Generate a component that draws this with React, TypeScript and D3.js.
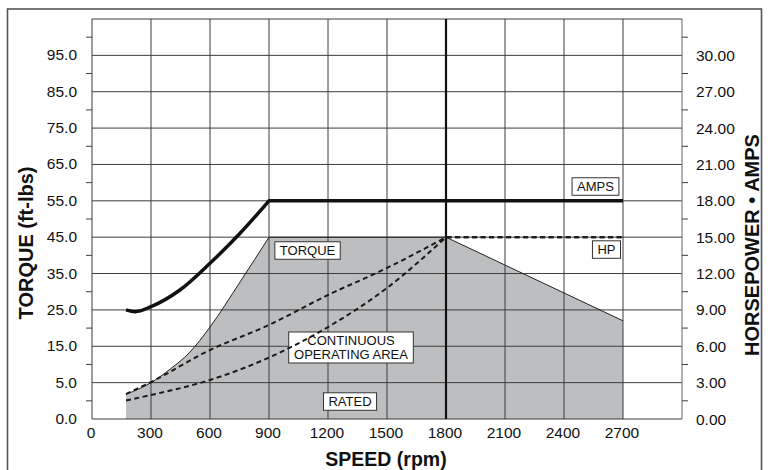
import React from "react";
import * as d3 from "d3";

// speed axis (rpm)
const speedTicks = [0, 300, 600, 900, 1200, 1500, 1800, 2100, 2400, 2700];

// left axis labels (ft-lbs) – printed scale, first interval is 0 -> 5
const torqueTicks = [0, 5, 15, 25, 35, 45, 55, 65, 75, 85, 95];

// right axis (hp / amps)
const powerTicks = [0, 3, 6, 9, 12, 15, 18, 21, 24, 27, 30];
const powerMinor = [1.5, 4.5, 7.5, 10.5, 13.5, 16.5, 19.5, 22.5, 25.5, 28.5, 31.5];

// continuous operating torque (ft-lbs)
const torqueRpm = [173, 300, 397, 498, 600, 753, 900, 1800, 2700];
const torqueVal = [3.4, 5.0, 8.7, 13.4, 20.3, 32.7, 45, 45, 22];

// amps
const ampsRpm = [173, 219, 300, 447, 600, 753, 900, 2700];
const ampsVal = [9.0, 8.85, 9.27, 10.64, 12.85, 15.32, 18, 18];

// horsepower curves (dashed)
const hpRpm = [173, 300, 600, 900, 1200, 1500, 1800, 2700];
const hpUpper = [2.06, 3.05, 5.69, 7.76, 10.23, 12.46, 15, 15];
const hpLower = [1.53, 1.98, 3.22, 5.07, 7.59, 10.81, 15, 15];

// boxed annotations: text, rpm, value on right axis
const notes = [
  { lines: ["AMPS"], rpm: 2560, at: 19.18 },
  { lines: ["TORQUE"], rpm: 1096, at: 13.9 },
  { lines: ["HP"], rpm: 2616, at: 13.98 },
  { lines: ["CONTINUOUS", "OPERATING AREA"], rpm: 1317, at: 5.9 },
  { lines: ["RATED"], rpm: 1312, at: 1.44 },
];

const FONT = "'Liberation Sans', Arial, Helvetica, sans-serif";

function textWidth(s: string, size: number) {
  const c = document.createElement("canvas").getContext("2d")!;
  c.font = `${size}px 'Liberation Sans', Arial, sans-serif`;
  return c.measureText(s).width;
}

export default function App() {
  const width = 771;
  const height = 470;

  const x = d3.scaleLinear().domain([0, 3000]).range([92, 682]);
  const yR = d3.scaleLinear().domain([0, 33]).range([419, 19]);
  const yL = d3.scaleLinear().domain([0, 5, 105]).range([yR(0), yR(3), yR(33)]);

  // curved part up to the corner, straight afterwards
  const split = (xs: number[], ys: number[], corner: number, sy: (v: number) => number) => {
    const pts: [number, number][] = xs.map((r, i) => [x(r), sy(ys[i])]);
    const k = xs.indexOf(corner);
    const curved = d3.line().curve(d3.curveMonotoneX)(pts.slice(0, k + 1)) || "";
    const straight = (d3.line()(pts.slice(k)) || "").replace(/^M/, "L");
    return { d: curved + straight, pts };
  };

  const torque = split(torqueRpm, torqueVal, 900, yL);
  const first = torque.pts[0];
  const last = torque.pts[torque.pts.length - 1];
  const torqueArea = `${torque.d}L${last[0]},${yL(0)}L${first[0]},${yL(0)}Z`;

  const amps = split(ampsRpm, ampsVal, 900, yR);
  const hpA = split(hpRpm, hpUpper, 1800, yR);
  const hpB = split(hpRpm, hpLower, 1800, yR);

  const grid = "#3d3d3d";
  const lh = 13.5;

  return (
    <svg
      width={width}
      height={height}
      style={{ position: "absolute", left: 0, top: 0, background: "#fff" }}
      fontFamily={FONT}
    >
      {/* outer frame */}
      <rect x={7.5} y={9} width={754} height={470} fill="none" stroke="#555" strokeWidth={1.6} />

      {/* shaded operating area */}
      <path d={torqueArea} fill="#bcbec0" stroke="none" />

      {/* grid */}
      {powerTicks.map((t) => (
        <line key={"h" + t} x1={x(0)} x2={x(3000)} y1={yR(t)} y2={yR(t)} stroke={grid} strokeWidth={1} />
      ))}
      <line x1={x(0)} x2={x(3000)} y1={yR(33)} y2={yR(33)} stroke={grid} strokeWidth={1} />
      {speedTicks.map((s) => (
        <line
          key={"v" + s}
          x1={x(s)}
          x2={x(s)}
          y1={yR(0)}
          y2={yR(33)}
          stroke={s === 1800 ? "#111" : grid}
          strokeWidth={s === 1800 ? 2.2 : 1}
        />
      ))}
      <line x1={x(3000)} x2={x(3000)} y1={yR(0)} y2={yR(33)} stroke="#666" strokeWidth={1} />

      {/* minor ticks outside */}
      {powerMinor.map((t) => (
        <g key={"m" + t}>
          <line x1={x(0) - 6} x2={x(0)} y1={yR(t)} y2={yR(t)} stroke={grid} strokeWidth={1} />
          <line x1={x(3000)} x2={x(3000) + 6} y1={yR(t)} y2={yR(t)} stroke={grid} strokeWidth={1} />
        </g>
      ))}

      {/* torque boundary */}
      <path d={torque.d} fill="none" stroke="#222" strokeWidth={1} />

      {/* amps */}
      <path d={amps.d} fill="none" stroke="#111" strokeWidth={3.5} />

      {/* annotation boxes */}
      {notes.map((n) => {
        const w = Math.max(...n.lines.map((l) => textWidth(l, 13))) + 10;
        const h = n.lines.length * lh + 4;
        const cx = x(n.rpm);
        const cy = yR(n.at);
        return (
          <g key={n.lines[0]}>
            <rect x={cx - w / 2} y={cy - h / 2} width={w} height={h} fill="#fff" stroke="#333" strokeWidth={1} />
            {n.lines.map((l, i) => (
              <text
                key={l}
                x={cx}
                y={cy + (i - (n.lines.length - 1) / 2) * lh + 4.6}
                textAnchor="middle"
                fontSize={13}
                fill="#111"
              >
                {l}
              </text>
            ))}
          </g>
        );
      })}

      {/* horsepower dashed */}
      <path d={hpA.d} fill="none" stroke="#1a1a1a" strokeWidth={2} strokeDasharray="5,3.5" />
      <path d={hpB.d} fill="none" stroke="#1a1a1a" strokeWidth={2} strokeDasharray="5,3.5" />

      {/* left axis labels */}
      {torqueTicks.map((t) => (
        <text key={"l" + t} x={77} y={yL(t) + 5} textAnchor="end" fontSize={15.5} fill="#111">
          {t.toFixed(1)}
        </text>
      ))}

      {/* right axis labels */}
      {powerTicks.map((t) => (
        <text key={"r" + t} x={696} y={yR(t) + 5.5} textAnchor="start" fontSize={15.5} fill="#111">
          {t.toFixed(2)}
        </text>
      ))}

      {/* bottom axis labels */}
      {speedTicks.map((s) => (
        <text key={"b" + s} x={x(s) - 1} y={437.5} textAnchor="middle" fontSize={15.5} fill="#111">
          {s}
        </text>
      ))}

      {/* titles */}
      <text x={386} y={466} textAnchor="middle" fontSize={19.5} fontWeight="bold" fill="#111">
        SPEED (rpm)
      </text>
      <text
        transform={`translate(33,${243}) rotate(-90)`}
        textAnchor="middle"
        fontSize={20}
        fontWeight="bold"
        fill="#111"
      >
        TORQUE (ft-lbs)
      </text>
      <text
        transform={`translate(759,${245}) rotate(-90)`}
        textAnchor="middle"
        fontSize={20}
        fontWeight="bold"
        fill="#111"
      >
        HORSEPOWER • AMPS
      </text>
    </svg>
  );
}
